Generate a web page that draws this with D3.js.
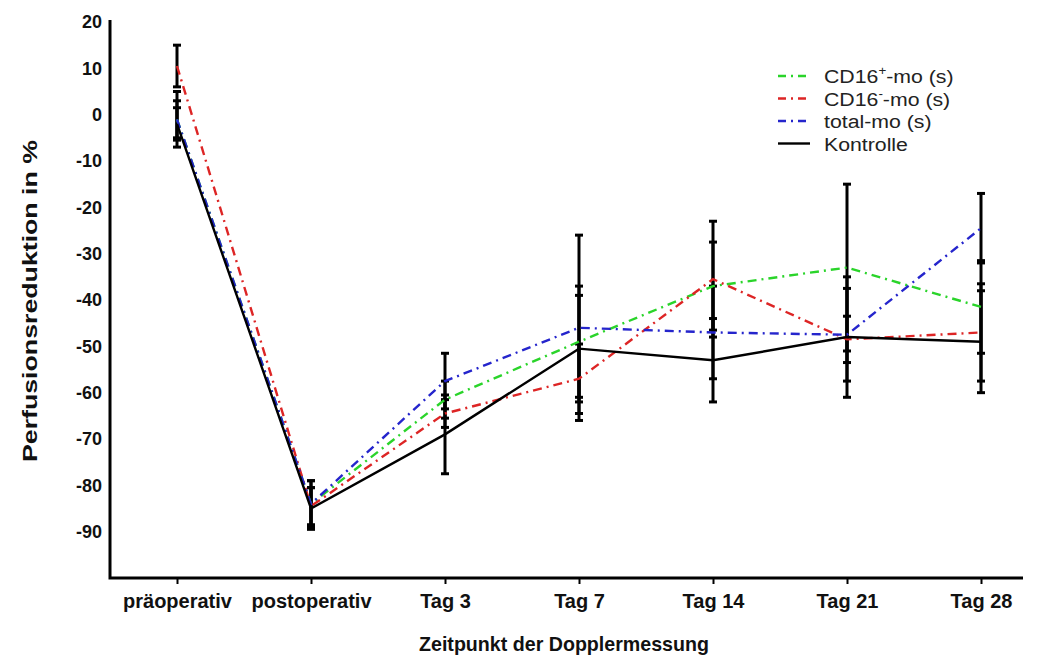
<!DOCTYPE html>
<html>
<head>
<meta charset="utf-8">
<script src="https://cdn.jsdelivr.net/npm/d3@7"></script>
<style>
  body { margin: 0; background: #fff; }
  text { font-family: "Liberation Sans", Arial, sans-serif; }
</style>
</head>
<body>
<div id="chart"></div>
<script>
// time points of the doppler measurement
const categories = ["präoperativ", "postoperativ", "Tag 3", "Tag 7", "Tag 14", "Tag 21", "Tag 28"];

// mean values per group
const cd16plus = [-1, -84, -61.5, -49, -37, -33, -41.5];
const cd16minus = [10.5, -84.5, -64.5, -57, -35.5, -48.5, -47];
const totalMo = [-1, -84, -57.5, -46, -47, -47.5, -24.5];
const kontrolle = [-2, -85, -69, -50.5, -53, -48, -49];

// error bar half widths per group
const cd16plusErr = [6, 5, 4, 12, 9.5, 18, 10];
const cd16minusErr = [4.5, 4, 3, 7.5, 12.5, 5, 10.5];
const totalMoErr = [4, 5, 6, 20, 10, 10, 7.5];
const kontrolleErr = [3.5, 4.5, 8.5, 11.5, 9, 13, 11];

const yTicks = [20, 10, 0, -10, -20, -30, -40, -50, -60, -70, -80, -90];

const series = [
  { name: "CD16", sup: "+", rest: "-mo (s)", values: cd16plus, err: cd16plusErr, color: "#2ad42a", dash: "9,5,2,5" },
  { name: "CD16", sup: "-", rest: "-mo (s)", values: cd16minus, err: cd16minusErr, color: "#dd2525", dash: "9,5,2,5" },
  { name: "total-mo (s)", sup: "", rest: "", values: totalMo, err: totalMoErr, color: "#2525cc", dash: "9,5,2,5" },
  { name: "Kontrolle", sup: "", rest: "", values: kontrolle, err: kontrolleErr, color: "#000", dash: null }
];

const width = 1041;
const height = 656;

const svg = d3.select("#chart")
  .append("svg")
  .attr("width", width)
  .attr("height", height);

// scales
const x = d3.scalePoint()
  .domain(categories)
  .range([177, 981]);

const y = d3.scaleLinear()
  .domain([-100, 20])
  .range([578, 22]);

// error bars (all black) drawn first
const errG = svg.append("g");
series.forEach(s => {
  s.values.forEach((v, i) => {
    const cx = x(categories[i]);
    errG.append("line")
      .attr("x1", cx).attr("x2", cx)
      .attr("y1", y(v + s.err[i])).attr("y2", y(v - s.err[i]))
      .attr("stroke", "#000").attr("stroke-width", 3);
    [v + s.err[i], v - s.err[i]].forEach(e => {
      errG.append("line")
        .attr("x1", cx - 4).attr("x2", cx + 4)
        .attr("y1", y(e)).attr("y2", y(e))
        .attr("stroke", "#000").attr("stroke-width", 3);
    });
  });
});

// lines
const line = d3.line()
  .x((d, i) => x(categories[i]))
  .y(d => y(d));

svg.selectAll(".series")
  .data(series)
  .enter()
  .append("path")
  .attr("class", "series")
  .attr("d", d => line(d.values))
  .attr("fill", "none")
  .attr("stroke", d => d.color)
  .attr("stroke-width", 2.4)
  .attr("stroke-dasharray", d => d.dash);

// axes
const yAxis = d3.axisLeft(y)
  .tickValues(yTicks)
  .tickSize(0)
  .tickPadding(8)
  .tickFormat(d => String(d)); // plain hyphen like the original
const yAxisGroup = svg.append("g")
  .attr("transform", "translate(110,0)")
  .call(yAxis);
yAxisGroup.select(".domain").remove();
yAxisGroup.selectAll("text")
  .attr("font-size", 18)
  .attr("font-weight", "bold")
  .attr("font-family", "Liberation Sans, Arial, sans-serif")
  .attr("fill", "#111");

const xAxis = d3.axisBottom(x).tickSize(6).tickPadding(10);
const xAxisGroup = svg.append("g")
  .attr("transform", "translate(0,578)")
  .call(xAxis);
xAxisGroup.select(".domain").remove();
xAxisGroup.selectAll("line").attr("stroke-width", 2);
xAxisGroup.selectAll("text")
  .attr("font-size", 20)
  .attr("font-weight", "bold")
  .attr("font-family", "Liberation Sans, Arial, sans-serif")
  .attr("fill", "#111");

// axis frame lines
svg.append("path")
  .attr("d", `M110,${y(20) - 2}V578H1023`)
  .attr("fill", "none")
  .attr("stroke", "#000")
  .attr("stroke-width", 3);

// axis titles
svg.append("text")
  .attr("transform", "translate(37,301) rotate(-90)")
  .attr("text-anchor", "middle")
  .attr("font-size", 21)
  .attr("font-weight", "bold")
  .attr("fill", "#111")
  .attr("textLength", 322)
  .attr("lengthAdjust", "spacingAndGlyphs")
  .text("Perfusionsreduktion in %");

svg.append("text")
  .attr("x", 564)
  .attr("y", 651)
  .attr("text-anchor", "middle")
  .attr("font-size", 21)
  .attr("font-weight", "bold")
  .attr("fill", "#111")
  .attr("textLength", 290)
  .attr("lengthAdjust", "spacingAndGlyphs")
  .text("Zeitpunkt der Dopplermessung");

// legend
const legend = svg.append("g").attr("transform", "translate(778,76)");
series.forEach((s, i) => {
  const row = legend.append("g").attr("transform", `translate(0,${i * 22.5})`);
  row.append("line")
    .attr("x1", 0).attr("x2", 32)
    .attr("y1", 0).attr("y2", 0)
    .attr("stroke", s.color)
    .attr("stroke-width", 2.4)
    .attr("stroke-dasharray", s.dash ? "8,5,2,5" : null);
  const t = row.append("text")
    .attr("transform", "translate(46,7) scale(1.12,1)")
    .attr("font-size", 19)
    .attr("fill", "#222");
  t.append("tspan").text(s.name);
  if (s.sup) {
    t.append("tspan").attr("dy", -8).attr("font-size", 12).text(s.sup);
    t.append("tspan").attr("dy", 8).text(s.rest);
  }
});
</script>
</body>
</html>
